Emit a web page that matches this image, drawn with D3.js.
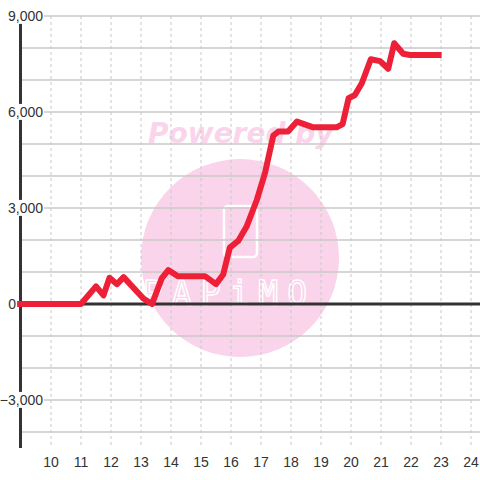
<!DOCTYPE html>
<html>
<head>
<meta charset="utf-8">
<script src="https://cdn.jsdelivr.net/npm/d3@7"></script>
<style>
html,body{margin:0;padding:0;background:#fff;}
svg{display:block;}
</style>
</head>
<body>
<svg id="chart" width="480" height="480"></svg>
<script>
// Data
const xValues = [8.87, 11.0, 11.5, 11.75, 11.95, 12.2, 12.42, 13.08, 13.37, 13.69, 13.91, 14.23, 15.13, 15.5, 15.74, 15.96, 16.24, 16.52, 16.86, 17.13, 17.41, 17.58, 17.9, 18.2, 18.74, 19.52, 19.72, 19.92, 20.13, 20.36, 20.66, 20.97, 21.24, 21.44, 21.74, 21.97, 23.02];
const yValues = [0, 0, 550, 270, 820, 620, 840, 170, 0, 800, 1060, 870, 870, 620, 920, 1760, 1970, 2420, 3250, 4080, 5260, 5390, 5390, 5700, 5520, 5520, 5620, 6430, 6530, 6900, 7650, 7590, 7350, 8150, 7820, 7780, 7780];
const xTicks = [10, 11, 12, 13, 14, 15, 16, 17, 18, 19, 20, 21, 22, 23, 24];
const yLabelTicks = [-3000, 0, 3000, 6000, 9000];
const yGridTicks = [-4000, -3000, -2000, -1000, 1000, 2000, 3000, 4000, 5000, 6000, 7000, 8000, 9000];

const svg = d3.select("#chart");
const x = d3.scaleLinear().domain([9, 24.3]).range([21, 480]);
const y = d3.scaleLinear().domain([-4500, 9000]).range([448, 16]);

// watermark
const wm = svg.append("g");
wm.append("circle").attr("cx", 240).attr("cy", 258).attr("r", 99).attr("fill", "#fad4ea");
wm.append("text").attr("x", 148).attr("y", 143)
  .attr("font-family", "DejaVu Sans").attr("font-weight", "bold").attr("font-style", "italic")
  .attr("font-size", 28).attr("fill", "#fad4ea").text("Powered by");
wm.append("rect").attr("x", 224).attr("y", 206).attr("width", 33).attr("height", 51).attr("rx", 4)
  .attr("fill", "none").attr("stroke", "#fff").attr("stroke-width", 2.5);
wm.append("text").attr("x", 143).attr("y", 305)
  .attr("font-family", "DejaVu Sans Mono").attr("font-size", 33)
  .attr("textLength", 164).attr("lengthAdjust", "spacing")
  .attr("fill", "none").attr("stroke", "#fff").attr("stroke-width", 1.4).text("PAPiMO");

// grid
const grid = svg.append("g");
grid.selectAll("line.v").data(xTicks).join("line")
  .attr("x1", d => x(d)).attr("x2", d => x(d))
  .attr("y1", 16).attr("y2", 448)
  .attr("stroke", "#c8c8c8").attr("stroke-width", 1).attr("stroke-dasharray", "3,3");
grid.selectAll("line.h").data(yGridTicks).join("line")
  .attr("x1", 21).attr("x2", 480)
  .attr("y1", d => y(d)).attr("y2", d => y(d))
  .attr("stroke", "#c8c8c8").attr("stroke-width", 1.5);

// zero line & y axis
svg.append("line").attr("x1", 21).attr("x2", 480).attr("y1", y(0)).attr("y2", y(0))
  .attr("stroke", "#333").attr("stroke-width", 3);
svg.append("line").attr("x1", 20.5).attr("x2", 20.5).attr("y1", 16).attr("y2", 448)
  .attr("stroke", "#333").attr("stroke-width", 3);

// y labels with white background
const yl = svg.append("g");
yLabelTicks.forEach(v => {
  const t = yl.append("text").attr("x", v === 0 ? 16 : 43).attr("y", y(v)).attr("dy", "0.35em")
    .attr("text-anchor", "end").attr("font-family", "Liberation Sans, Arial, sans-serif")
    .attr("font-size", 14).attr("fill", "#333").text(d3.format(",")(v));
  const bb = t.node().getBBox();
  yl.insert("rect", "text").attr("x", bb.x - 1).attr("y", bb.y).attr("width", bb.width + 2).attr("height", bb.height)
    .attr("fill", "#fff");
});

// data line
const line = d3.line().x((d, i) => x(xValues[i])).y(d => y(d));
svg.append("path").datum(yValues).attr("d", line)
  .attr("fill", "none").attr("stroke", "#ee2037").attr("stroke-width", 6)
  .attr("stroke-linejoin", "round");

// x labels
svg.append("g").selectAll("text").data(xTicks).join("text")
  .attr("x", d => x(d)).attr("y", 467).attr("text-anchor", "middle")
  .attr("font-family", "Liberation Sans, Arial, sans-serif").attr("font-size", 14)
  .attr("fill", "#333").text(d => d);
</script>
</body>
</html>
